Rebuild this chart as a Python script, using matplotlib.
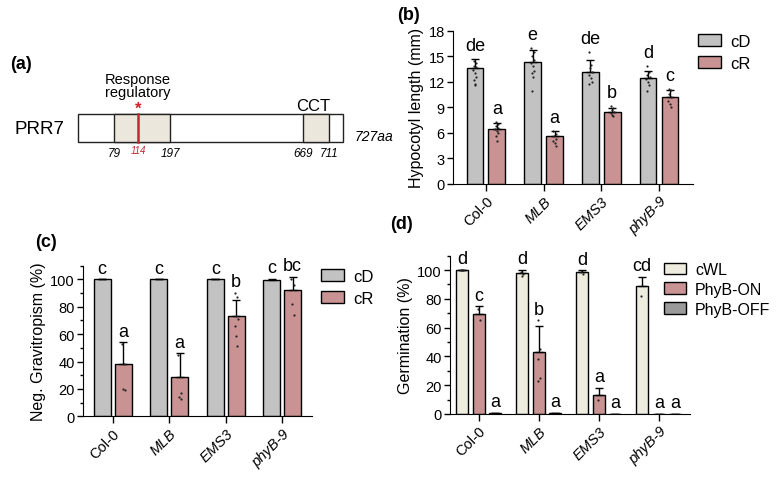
import numpy as np
import matplotlib
matplotlib.use("Agg")
import matplotlib.pyplot as plt
from matplotlib.patches import Patch, Rectangle
from matplotlib.ticker import MultipleLocator

plt.rcParams["font.family"] = ["Liberation Sans", "DejaVu Sans"]

# -------------------------
# Data
# -------------------------
genotypes = ["Col-0", "MLB", "EMS3", "phyB-9"]
geno_italic = [False, True, True, True]

# (a) PRR7 domain map (aa positions)
prr7_length = 727
rr_domain = (79, 197)
cct_domain = (669, 711)
mutation_pos = 114

# (b) hypocotyl length (mm)
hyp_cD = [13.6, 14.3, 13.2, 12.5]
hyp_cD_err = [1.1, 1.4, 1.4, 0.8]
hyp_cR = [6.5, 5.6, 8.5, 10.2]
hyp_cR_err = [0.7, 0.65, 0.45, 0.85]
hyp_cD_letters = ["de", "e", "de", "d"]
hyp_cR_letters = ["a", "a", "b", "c"]
hyp_cD_pts = [
    [14.5, 14.2, 13.9, 13.7, 13.4, 13.0, 12.6, 12.2, 11.8, 11.6],
    [16.0, 15.5, 15.0, 14.6, 14.2, 13.8, 13.3, 13.0, 12.6, 10.9],
    [15.5, 14.0, 13.6, 13.2, 12.8, 12.4, 12.0, 11.8],
    [13.8, 13.2, 12.8, 12.6, 12.3, 12.0, 11.6, 10.9],
]
hyp_cR_pts = [
    [7.3, 7.1, 6.8, 6.6, 6.4, 6.2, 6.0, 5.6, 5.0],
    [6.2, 5.9, 5.6, 5.3, 5.0, 4.8, 4.5],
    [9.2, 8.9, 8.7, 8.5, 8.3, 8.1, 8.0],
    [11.2, 11.0, 10.6, 10.2, 9.8, 9.4, 9.0],
]

# (c) negative gravitropism (%)
grav_cD = [100, 100, 100, 99.3]
grav_cD_err = [0, 0, 0, 1.2]
grav_cR = [38, 29, 73, 92]
grav_cR_err = [16, 17, 11.7, 10]
grav_cD_letters = ["c", "c", "c", "c"]
grav_cR_letters = ["a", "a", "b", "bc"]
grav_cR_pts = [
    [53, 38, 20, 19],
    [45, 17, 14, 13],
    [90, 87, 73, 71, 66, 59, 51],
    [100, 96, 82, 74],
]

# (d) germination (%)
germ_wl = [100, 97.7, 98.4, 88.7]
germ_wl_err = [0, 2.3, 1.4, 6.7]
germ_on = [69.7, 43.2, 13.3, 0]
germ_on_err = [5, 17.7, 4.6, 0]
germ_off = [0.6, 0.5, 0, 0]
germ_off_err = [0, 0, 0, 0]
germ_wl_letters = ["d", "d", "d", "cd"]
germ_on_letters = ["c", "b", "a", "a"]
germ_off_letters = ["a", "a", "a", "a"]
germ_wl_pts = [[100, 100, 100], [99, 97, 96], [99, 97], [82]]
germ_on_pts = [[73, 65], [65, 45, 38, 25, 23], [10], []]

# colours
c_gray = "#c2c2c2"
c_red = "#c99393"
c_cream = "#eeebdf"
c_dark = "#9a9a9a"

jitter = [-0.05, 0.04, -0.02, 0.06, -0.06, 0.01, 0.05, -0.04, 0.02, -0.01]

fig = plt.figure(figsize=(7.77, 4.81), dpi=100)


def px(x, y, w, h):
    return [x / 777, 1 - (y + h) / 481, w / 777, h / 481]


def bar_panel(ax, means, errs, offsets, width, colors, letters, pts, pad):
    x = np.arange(len(genotypes))
    for i in range(len(means)):
        m = np.array(means[i])
        e = np.array(errs[i])
        xs = x + offsets[i]
        ax.bar(xs, m, width, color=colors[i], edgecolor="black", linewidth=1, zorder=2)
        ax.errorbar(xs, m, yerr=[np.zeros_like(e), e], fmt="none", ecolor="black",
                    elinewidth=1, capsize=3, capthick=1, zorder=3)
        for j in range(len(xs)):
            top = m[j] + e[j]
            if pts[i] is not None and len(pts[i][j]) > 0:
                vals = pts[i][j]
                ax.scatter(xs[j] + np.array(jitter[:len(vals)]) * width * 1.5, vals,
                           s=2.5, color="#222222", zorder=4, linewidths=0)
                top = max(top, max(vals))
            ax.text(xs[j], top + pad, letters[i][j], ha="center", va="bottom", fontsize=13)
    ax.set_xticks(x)
    labels = ax.set_xticklabels(genotypes, rotation=45, ha="right", rotation_mode="anchor",
                                fontsize=13)
    for lab, it in zip(labels, geno_italic):
        if it:
            lab.set_fontstyle("italic")
    ax.spines["top"].set_visible(False)
    ax.spines["right"].set_visible(False)
    ax.tick_params(direction="out", length=4, width=1, labelsize=10.5, pad=2)
    ax.tick_params(axis="x", length=5, pad=2)
    ax.tick_params(which="minor", direction="out", length=2.5, width=1)


legend_kw = dict(loc="upper left", frameon=False, handlelength=1.35, handleheight=0.75,
                 handletextpad=0.6, borderpad=0, borderaxespad=0)

# -------------------------
# (a) domain diagram
# -------------------------
aa_knots = [0, rr_domain[0], mutation_pos, rr_domain[1], cct_domain[0], cct_domain[1], prr7_length]
px_knots = [0, 36, 60, 92, 225, 251, 265]
axa = fig.add_axes(px(78, 115, 265, 28))
axa.set_xscale("function", functions=(lambda v: np.interp(v, aa_knots, px_knots),
                                       lambda v: np.interp(v, px_knots, aa_knots)))
axa.set_xlim(0, prr7_length)
axa.set_ylim(0, 1)
axa.axis("off")
axa.add_patch(Rectangle((0, 0), prr7_length, 1, facecolor="white", edgecolor="#222222",
                        linewidth=1, clip_on=False))
for d in (rr_domain, cct_domain):
    axa.add_patch(Rectangle((d[0], 0), d[1] - d[0], 1, facecolor="#ece7dc",
                            edgecolor="#222222", linewidth=1, clip_on=False))
axa.plot([mutation_pos, mutation_pos], [0, 1], color="#c0282d", lw=1.8, clip_on=False)
axa.text(mutation_pos, 0.95, "*", color="#d0202a", ha="center", va="bottom", fontsize=12,
         fontweight="bold")
axa.text(mutation_pos, 1.55, "Response\nregulatory", ha="center", va="bottom", fontsize=10.5,
         linespacing=0.85)
axa.text(np.mean(cct_domain) - 4, 1.05, "CCT", ha="center", va="bottom", fontsize=12)
for pos in (rr_domain[0], rr_domain[1], cct_domain[0], cct_domain[1]):
    axa.text(pos, -0.18, str(pos), ha="center", va="top", fontsize=8.5, style="italic")
axa.text(mutation_pos, -0.12, str(mutation_pos), ha="center", va="top", fontsize=7,
         style="italic", color="#c0282d")
axa.text(1.045, 0.22, f"{prr7_length}aa", transform=axa.transAxes, ha="left", va="center",
         fontsize=10, style="italic")
fig.text(14 / 777, 1 - 130 / 481, "PRR7", ha="left", va="center", fontsize=13.5)

# -------------------------
# (b) hypocotyl length
# -------------------------
axb = fig.add_axes(px(453, 31.7, 240, 153.3))
bar_panel(axb, [hyp_cD, hyp_cR], [hyp_cD_err, hyp_cR_err], [-0.19, 0.19], 0.29,
          [c_gray, c_red], [hyp_cD_letters, hyp_cR_letters], [hyp_cD_pts, hyp_cR_pts], 0.6)
axb.set_ylim(0, 18)
axb.set_yticks(np.arange(0, 19, 3))
axb.set_xlim(-0.57, 3.59)
axb.set_ylabel("Hypocotyl length (mm)", fontsize=11.5, labelpad=3)
fig.legend(handles=[Patch(facecolor=c_gray, edgecolor="black", label="cD"),
                    Patch(facecolor=c_red, edgecolor="black", label="cR")],
           bbox_to_anchor=(698 / 777, 1 - 35 / 481), fontsize=12, labelspacing=0.4,
           **legend_kw)

# -------------------------
# (c) negative gravitropism
# -------------------------
axc = fig.add_axes(px(83.3, 266.7, 228.4, 150.6))
bar_panel(axc, [grav_cD, grav_cR], [grav_cD_err, grav_cR_err], [-0.185, 0.185], 0.3,
          [c_gray, c_red], [grav_cD_letters, grav_cR_letters], [None, grav_cR_pts], 2.0)
axc.set_ylim(0, 110)
axc.set_yticks(np.arange(0, 101, 20))
axc.yaxis.set_minor_locator(MultipleLocator(10))
axc.set_xlim(-0.52, 3.52)
axc.set_ylabel("Neg. Gravitropism (%)", fontsize=11.5, labelpad=3)
fig.legend(handles=[Patch(facecolor=c_gray, edgecolor="black", label="cD"),
                    Patch(facecolor=c_red, edgecolor="black", label="cR")],
           bbox_to_anchor=(321 / 777, 1 - 270 / 481), fontsize=12, labelspacing=0.4,
           **legend_kw)

# -------------------------
# (d) germination
# -------------------------
axd = fig.add_axes(px(450, 256.7, 240, 158.3))
bar_panel(axd, [germ_wl, germ_on, germ_off], [germ_wl_err, germ_on_err, germ_off_err],
          [-0.275, 0.0, 0.275], 0.2, [c_cream, c_red, c_dark],
          [germ_wl_letters, germ_on_letters, germ_off_letters],
          [germ_wl_pts, germ_on_pts, None], 2.0)
axd.set_ylim(0, 110)
axd.set_yticks(np.arange(0, 101, 20))
axd.yaxis.set_minor_locator(MultipleLocator(10))
axd.set_xlim(-0.48, 3.52)
axd.set_ylabel("Germination (%)", fontsize=11.5, labelpad=3)
fig.legend(handles=[Patch(facecolor=c_cream, edgecolor="black", label="cWL"),
                    Patch(facecolor=c_red, edgecolor="black", label="PhyB-ON"),
                    Patch(facecolor=c_dark, edgecolor="black", label="PhyB-OFF")],
           bbox_to_anchor=(664 / 777, 1 - 263 / 481), fontsize=11.5, labelspacing=0.3,
           **legend_kw)

# panel labels
for lab, x, y in [("(a)", 10, 65), ("(b)", 397, 15), ("(c)", 35, 243), ("(d)", 390, 225)]:
    fig.text(x / 777, 1 - y / 481, lab, fontsize=13, fontweight="bold", ha="left", va="center")

fig.savefig("out.png", dpi=100)
